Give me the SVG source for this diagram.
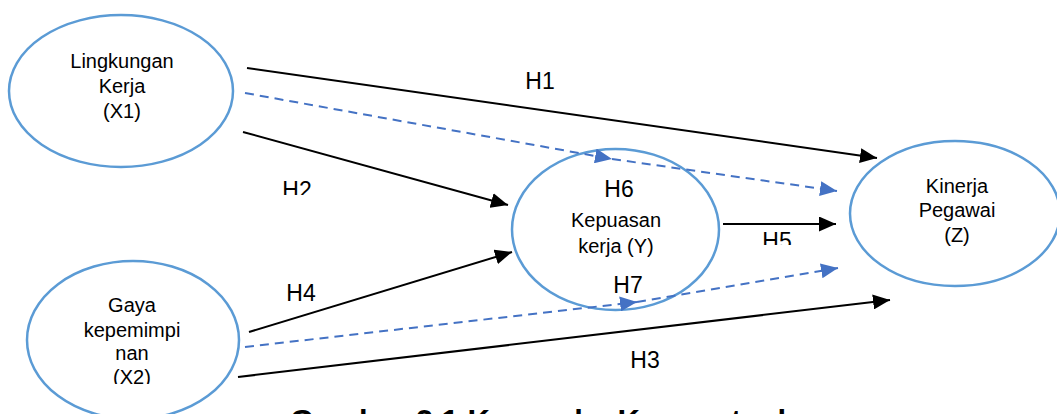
<svg xmlns="http://www.w3.org/2000/svg" width="1057" height="414" viewBox="0 0 1057 414">
<style>
.node{fill:#fff;stroke:#5B9BD5;stroke-width:2.5}
.t{font-family:"Liberation Sans",Arial,sans-serif;font-size:20px;fill:#000;text-anchor:middle}
.h{font-family:"Liberation Sans",Arial,sans-serif;font-size:23px;fill:#000;text-anchor:middle}
.solid{fill:none;stroke:#000;stroke-width:2}
.dash{fill:none;stroke:#4472C4;stroke-width:2;stroke-dasharray:9,6}
.cap{font-family:"Liberation Sans",Arial,sans-serif;font-size:31px;font-weight:bold;fill:#000}
</style>
<defs>
<marker id="ab" markerUnits="userSpaceOnUse" markerWidth="18" markerHeight="15" refX="17" refY="7.5" orient="auto"><path d="M0,0 L17,7.5 L0,15 Z" fill="#000"/></marker>
<marker id="au" markerUnits="userSpaceOnUse" markerWidth="18" markerHeight="15" refX="17" refY="7.5" orient="auto"><path d="M0,0 L17,7.5 L0,15 Z" fill="#4472C4"/></marker>
<clipPath id="cH2"><rect x="270" y="170" width="50" height="25"/></clipPath>
<clipPath id="cH5"><rect x="750" y="220" width="50" height="25"/></clipPath>
<clipPath id="cX2"><rect x="60" y="360" width="150" height="24"/></clipPath>
</defs>
<g id="node-x1">
<ellipse class="node" cx="121" cy="91" rx="112" ry="76"/>
<text class="t" x="122" y="68">Lingkungan</text>
<text class="t" x="122" y="93">Kerja</text>
<text class="t" x="122" y="118">(X1)</text>
</g>
<g id="node-x2">
<ellipse class="node" cx="133" cy="340" rx="106" ry="79"/>
<text class="t" x="132" y="312">Gaya</text>
<text class="t" x="132" y="337">kepemimpi</text>
<text class="t" x="132" y="360">nan</text>
<text class="t" x="132" y="384" clip-path="url(#cX2)">(X2)</text>
</g>
<g id="node-y">
<ellipse class="node" cx="615.5" cy="229.5" rx="103.5" ry="80.5"/>
<text class="t" x="616" y="227">Kepuasan</text>
<text class="t" x="616" y="253">kerja (Y)</text>
</g>
<g id="node-z">
<ellipse class="node" cx="955" cy="213.5" rx="105" ry="72.5"/>
<text class="t" x="957" y="193">Kinerja</text>
<text class="t" x="957" y="217">Pegawai</text>
<text class="t" x="957" y="242">(Z)</text>
</g>
<g id="connectors">
<path class="solid" d="M247,68 L877,158" marker-end="url(#ab)"/>
<path class="dash" d="M245,93 L612,159" marker-end="url(#au)"/>
<path class="dash" d="M612,159 L837,191" marker-end="url(#au)"/>
<path class="solid" d="M243,132 L508,205" marker-end="url(#ab)"/>
<path class="solid" d="M249,332 L512,252" marker-end="url(#ab)"/>
<path class="dash" d="M245,347 L637,302" marker-end="url(#au)"/>
<path class="dash" d="M637,302 L838,268" marker-end="url(#au)"/>
<path class="solid" d="M723,224 L836,224" marker-end="url(#ab)"/>
<path class="solid" d="M238,377 L890,300" marker-end="url(#ab)"/>
</g>
<g id="labels">
<text class="h" x="540" y="89">H1</text>
<text class="h" x="297" y="198" clip-path="url(#cH2)">H2</text>
<text class="h" x="645" y="368">H3</text>
<text class="h" x="301" y="301">H4</text>
<text class="h" x="777" y="249" clip-path="url(#cH5)">H5</text>
<text class="h" x="619" y="197">H6</text>
<text class="h" x="628" y="293">H7</text>
</g>
<text class="cap" x="290" y="432">Gambar 2.1 Kerangka Konseptual</text>
</svg>
